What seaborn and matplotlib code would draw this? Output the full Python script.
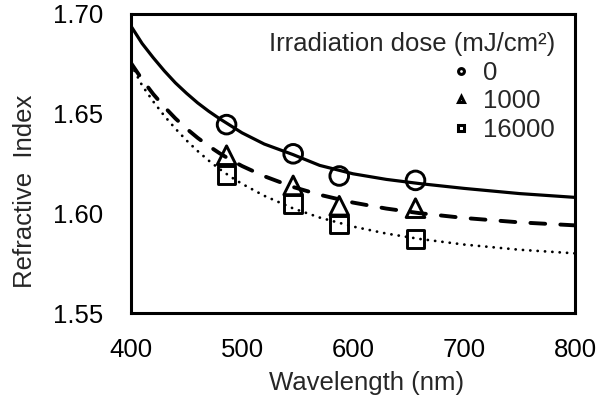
import matplotlib
matplotlib.use("Agg")
import matplotlib.pyplot as plt
from matplotlib.lines import Line2D
import seaborn as sns

# measured points (F, e, d, C lines)
wavelength = [486.1, 546.1, 587.6, 656.3]
n_0 = [1.6444, 1.6298, 1.6187, 1.6165]
n_1000 = [1.6291, 1.6140, 1.6038, 1.6026]
n_16000 = [1.6193, 1.6048, 1.5944, 1.5870]

# fitted dispersion curves
wl_fit = [400, 410, 420, 430, 440, 450, 460, 470, 480, 490, 500, 520,
          546, 570, 600, 630, 660, 700, 750, 800]
fit_0 = [1.6937, 1.6850, 1.6779, 1.6713, 1.6653, 1.6601, 1.6553, 1.6511,
         1.6473, 1.6438, 1.6403, 1.6347, 1.6294, 1.6240, 1.6198, 1.6170,
         1.6149, 1.6125, 1.6099, 1.6080]
fit_1000 = [1.6752, 1.6670, 1.6597, 1.6533, 1.6475, 1.6424, 1.6378, 1.6337,
            1.6300, 1.6267, 1.6237, 1.6186, 1.6132, 1.6093, 1.6054, 1.6024,
            1.6001, 1.5977, 1.5955, 1.5940]
fit_16000 = [1.6746, 1.6640, 1.6560, 1.6488, 1.6424, 1.6365, 1.6312, 1.6264,
             1.6221, 1.6182, 1.6148, 1.6088, 1.6025, 1.5979, 1.5934, 1.5899,
             1.5872, 1.5844, 1.5818, 1.5800]

doses = ["0", "1000", "16000"]
x_ticks = [400, 500, 600, 700, 800]
y_ticks = [1.55, 1.60, 1.65, 1.70]

sns.set_style("white")
plt.rcParams["font.family"] = ["Liberation Sans", "DejaVu Sans"]
FS = 18.5

fig = plt.figure(figsize=(5.97, 4.03), dpi=100)
ax = fig.add_axes([131 / 597, 89.7 / 403, 444 / 597, 299.8 / 403])

# fit curves
sns.lineplot(x=wl_fit, y=fit_0, color="black", lw=2.3, ax=ax)
sns.lineplot(x=wl_fit, y=fit_1000, color="black", lw=2.8,
             linestyle=(0, (3.8, 3.9)), dash_capstyle="round", ax=ax)
sns.lineplot(x=wl_fit, y=fit_16000, color="black", lw=2.0,
             linestyle=(0, (0.05, 2.6)), dash_capstyle="round", ax=ax)

# measured points
for vals, mk, s in [(n_0, "o", 180), (n_1000, "^", 180), (n_16000, "s", 165)]:
    sns.scatterplot(x=wavelength, y=vals, marker=mk, s=s, facecolors="none",
                    edgecolor="black", linewidth=2.1, ax=ax, zorder=3)

ax.set_xlim(400, 800)
ax.set_ylim(1.55, 1.70)
ax.set_xticks(x_ticks)
ax.set_yticks(y_ticks)
ax.set_yticklabels([f"{v:.2f}" for v in y_ticks])
ax.tick_params(axis="both", direction="in", length=6, width=1,
               labelsize=FS, colors="black")
ax.tick_params(axis="y", pad=20)
ax.tick_params(axis="x", pad=18)
for sp in ax.spines.values():
    sp.set_linewidth(2.2)
    sp.set_color("black")

ax.set_xlabel("Wavelength (nm)", fontsize=FS)
ax.set_ylabel("Refractive  Index", fontsize=FS)
ax.xaxis.set_label_coords((367 - 131) / 444, (313.3 - 371) / 299.8)
ax.yaxis.set_label_coords((37 - 131) / 444, (313.3 - 191) / 299.8)

handles = [Line2D([], [], ls="none", marker=m, ms=4.2, mew=2.2,
                  mfc="none", mec="black") for m in ["o", "^", "s"]]
ax.legend(handles, doses, title="Irradiation dose (mJ/cm²)",
          title_fontsize=FS, fontsize=FS, frameon=False,
          loc="upper right", bbox_to_anchor=(555 / 597, 1 - 32 / 403),
          bbox_transform=fig.transFigure, borderpad=0, borderaxespad=0,
          handlelength=0.6, handletextpad=0.55, labelspacing=0.18,
          alignment="right")

fig.savefig("out.png", dpi=100)
